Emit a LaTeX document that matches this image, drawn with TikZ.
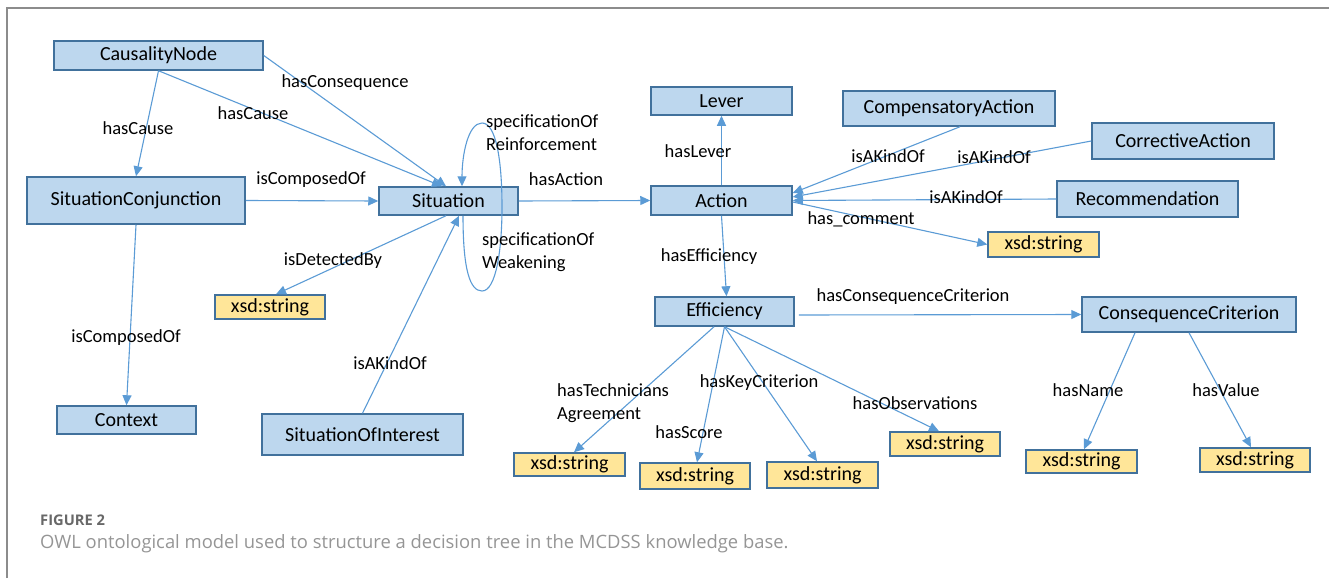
\documentclass[tikz,border=0pt]{standalone}
\usepackage{fontspec}
\setmainfont{Carlito}
\newfontfamily\capfont{Open Sans}
\usetikzlibrary{arrows.meta,calc}
\definecolor{boxfill}{HTML}{BDD7EE}
\definecolor{boxdraw}{HTML}{41719C}
\definecolor{strfill}{HTML}{FFE699}
\definecolor{edgecol}{HTML}{5B9BD5}
\definecolor{framegray}{HTML}{8C8C8C}
\definecolor{capgray}{HTML}{7A7A7A}
\begin{document}
\begin{tikzpicture}[x=1pt,y=-1pt,
 cls/.style={draw=boxdraw, fill=boxfill, line width=1.5pt, inner sep=0pt, font=\fontsize{20}{24}\selectfont},
 str/.style={draw=boxdraw, fill=strfill, line width=1.5pt, inner sep=0pt, font=\fontsize{20}{24}\selectfont},
 rel/.style={draw=edgecol, line width=1.1pt, -{Triangle[length=10pt,width=9pt]}},
 lbl/.style={inner sep=0pt, font=\fontsize{18.5}{23}\selectfont, align=left},
]
\useasboundingbox (0,0) rectangle (1329,578);
\draw[framegray, line width=2pt] (7,578) -- (7,8) -- (1329,8);

% classes
\node[cls, minimum width=209pt, minimum height=29pt] (causality) at (158.5,55.5) {CausalityNode};
\node[cls, minimum width=218pt, minimum height=47pt] (sitconj) at (136,200.5) {SituationConjunction};
\node[cls, minimum width=139pt, minimum height=28pt] (situation) at (448.5,201) {Situation};
\node[cls, minimum width=141pt, minimum height=28pt] (lever) at (721.5,101) {Lever};
\node[cls, minimum width=141pt, minimum height=29pt] (action) at (721.5,200.5) {Action};
\node[cls, minimum width=212pt, minimum height=35pt] (comp) at (949,108.5) {CompensatoryAction};
\node[cls, minimum width=182pt, minimum height=36pt] (corr) at (1183,141) {CorrectiveAction};
\node[cls, minimum width=181pt, minimum height=36pt] (recomm) at (1147.5,199) {Recommendation};
\node[cls, minimum width=139pt, minimum height=29pt] (eff) at (724.5,311.5) {Efficiency};
\node[cls, minimum width=214pt, minimum height=35pt] (cc) at (1189,314.5) {ConsequenceCriterion};
\node[cls, minimum width=139pt, minimum height=28pt] (context) at (126.5,420) {Context};
\node[cls, minimum width=201pt, minimum height=41pt] (soi) at (362.5,434.5) {SituationOfInterest};

% literals
\node[str, minimum width=111pt, minimum height=25pt] (xsdc) at (1043.5,244.5) {xsd:string};
\node[str, minimum width=110pt, minimum height=24pt] (xsdd) at (270,307) {xsd:string};
\node[str, minimum width=111pt, minimum height=23pt] (xsdt) at (569.5,464.5) {xsd:string};
\node[str, minimum width=110pt, minimum height=26pt] (xsds) at (695,476) {xsd:string};
\node[str, minimum width=111pt, minimum height=26pt] (xsdk) at (822.5,475) {xsd:string};
\node[str, minimum width=110pt, minimum height=24pt] (xsdo) at (945,444) {xsd:string};
\node[str, minimum width=111pt, minimum height=23pt] (xsdn) at (1081.5,461.5) {xsd:string};
\node[str, minimum width=110pt, minimum height=24pt] (xsdv) at (1255,460) {xsd:string};

% connectors
\draw[rel] (causality.south) -- (sitconj.north);
\draw[rel] (causality.south) -- ([xshift=-6.5pt]situation.north);
\draw[rel] (causality.east) -- ([xshift=-2.5pt]situation.north);
\draw[rel] (sitconj.east) -- (situation.west);
\draw[rel] (sitconj.south) -- (context.north);
\draw[rel] ([xshift=-2.5pt]situation.south) -- ([xshift=6pt]xsdd.north);
\draw[rel] (soi.north) -- ([xshift=10.5pt]situation.south);
\draw[rel] ([xshift=14.5pt]situation.south) .. controls (463,270) and (470,291) .. (482,291)
  .. controls (496,291) and (502,250) .. (502,207)
  .. controls (502,160) and (496,123) .. (482,123)
  .. controls (468,123) and (462,155) .. ([xshift=13.5pt]situation.north);
\draw[rel] (situation.east) -- (action.west);
\draw[rel] (action.north) -- (lever.south);
\draw[rel] (action.south) -- ([xshift=2pt]eff.north);
\draw[rel] ([xshift=11pt]comp.south) -- ([yshift=7.5pt]action.east);
\draw[rel] (corr.west) -- ([yshift=3.5pt]action.east);
\draw[rel] (recomm.west) -- (action.east);
\draw[rel] ([yshift=-1.5pt]action.east) -- (xsdc.west);
\draw[rel] ([yshift=-3.5pt,xshift=4pt]eff.east) -- (cc.west);
\draw[rel] ([xshift=-10.5pt]eff.south) -- ([xshift=4.5pt]xsdt.north);
\draw[rel] (eff.south) -- ([xshift=2pt]xsds.north);
\draw[rel] (eff.south) -- ([xshift=-5.5pt]xsdk.north);
\draw[rel] (eff.south) -- ([xshift=-6pt]xsdo.north);
\draw[rel] ([xshift=-54pt]cc.south) -- ([xshift=2.5pt]xsdn.north);
\draw[rel] (cc.south) -- ([xshift=-4pt]xsdv.north);

% labels
\node[lbl] (l1) at (138,128) {hasCause};
\node[lbl] (l2) at (253,113) {hasCause};
\node[lbl] (l3) at (345,83) {hasConsequence};
\node[lbl] (l4) at (311,180) {isComposedOf};
\node[lbl] (l5) at (126,338) {isComposedOf};
\node[lbl] (l6) at (333,261) {isDetectedBy};
\node[lbl] (l7) at (390,363) {isAKindOf};
\node[lbl, anchor=west] (l8) at (486,132.5) {specificationOf\\Reinforcement};
\node[lbl, anchor=west] (l9) at (482,252.5) {specificationOf\\Weakening};
\node[lbl] (l10) at (566,179) {hasAction};
\node[lbl] (l11) at (698,151) {hasLever};
\node[lbl] (l12) at (709,257) {hasEfficiency};
\node[lbl] (l13) at (888,156) {isAKindOf};
\node[lbl] (l14) at (994,157) {isAKindOf};
\node[lbl] (l15) at (966,197) {isAKindOf};
\node[lbl] (l16) at (861,219) {has\_comment};
\node[lbl] (l17) at (913,297) {hasConsequenceCriterion};
\node[lbl, anchor=west] (l18) at (557,403.5) {hasTechnicians\\Agreement};
\node[lbl] (l19) at (689,432) {hasScore};
\node[lbl] (l20) at (759,383) {hasKeyCriterion};
\node[lbl] (l21) at (915,403) {hasObservations};
\node[lbl] (l22) at (1088,390) {hasName};
\node[lbl] (l23) at (1226,390) {hasValue};

% caption
\node[anchor=west, inner sep=0pt, text=capgray!85!black, font=\capfont\bfseries\fontsize{14.7}{17}\selectfont] (figno) at (40,520.5) {FIGURE 2};
\node[anchor=west, inner sep=0pt, text=capgray!80, font=\capfont\fontsize{18.4}{21}\selectfont] (caption) at (40,544) {OWL ontological model used to structure a decision tree in the MCDSS knowledge base.};
\end{tikzpicture}
\end{document}
